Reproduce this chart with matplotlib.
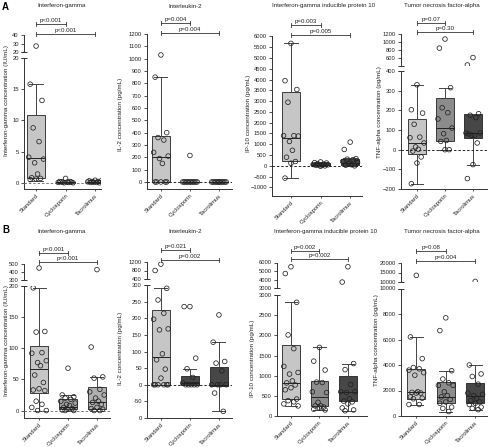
import matplotlib.pyplot as plt
from matplotlib.transforms import blended_transform_factory

plt.rcParams['font.family'] = ['Liberation Sans', 'DejaVu Sans']
plt.rcParams['font.size'] = 4.3

W, H = 489, 447
fig = plt.figure(figsize=(W / 100, H / 100), dpi=100)

groups = ['Standard', 'Cyclosporin', 'Tacrolimus']

# box stats per group: [whisker low, q1, median, q3, whisker high]
a_ifn_box = [[0.3, 0.8, 3.9, 10.9, 15.8], [0, 0.02, 0.06, 0.12, 0.2], [0, 0.05, 0.1, 0.2, 0.4]]
a_ifn_pts = [[27, 15.8, 13.2, 8.8, 6.6, 4.1, 3.8, 3.2, 1.4, 0.8, 0.7, 0.6, 0.5],
             [0.7, 0.2, 0.1, 0.1, 0.05, 0.05, 0, 0, 0.1, 0.15, 0.2],
             [0.4, 0.3, 0.3, 0.2, 0.2, 0.15, 0.1, 0.1, 0.05, 0.05, 0]]
a_il2_box = [[0, 0, 200, 375, 850], [0, 0, 0, 0, 0], [0, 0, 0, 0, 0]]
a_il2_pts = [[1030, 850, 400, 360, 340, 240, 210, 190, 150, 0, 0, 0, 0, 0],
             [215, 0, 0, 0, 0, 0, 0, 0, 0, 0, 0, 0],
             [0, 0, 0, 0, 0, 0, 0, 0, 0, 0, 0, 0]]
a_ip10_box = [[-570, 230, 1270, 3420, 5680], [-20, 20, 60, 110, 180], [0, 20, 120, 330, 340]]
a_ip10_pts = [[5680, 3950, 3540, 2950, 1400, 1400, 1380, 1130, 720, 400, 200, 120, -570],
              [180, 150, 130, 100, 80, 60, 50, 40, 30, 20, 0, -20],
              [1100, 760, 330, 310, 290, 200, 150, 100, 50, 30, 0]]
a_tnf_box = [[-173, -20, 34, 158, 330], [0, 44, 108, 265, 315], [-76, 61, 85, 183, 183]]
a_tnf_pts = [[330, 203, 186, 129, 64, 61, 34, 14, 2, -7, -37, -68, -173],
             [1075, 850, 315, 213, 188, 156, 110, 81, 47, 42, 0, 0],
             [617, 433, 183, 175, 163, 85, 85, 73, 73, 80, 34, -76, -147]]

b_ifn_box = [[0, 28, 66, 103, 197], [0, 3, 6, 18, 25], [0, 3, 13, 38, 54]]
b_ifn_pts = [[450, 197, 127, 126, 93, 92, 80, 77, 72, 57, 45, 35, 33, 32, 15, 10, 5, 0, 0],
             [68, 25, 22, 20, 18, 15, 12, 10, 8, 5, 3, 2, 1, 0, 0],
             [430, 102, 54, 52, 34, 30, 25, 20, 15, 13, 10, 5, 3, 2, 0, 0]]
b_il2_box = [[0, 0, 82, 225, 290], [0, 0, 5, 27, 48], [-80, -3, 0, 53, 128]]
b_il2_pts = [[1100, 800, 290, 255, 215, 197, 168, 165, 93, 75, 47, 20, 0, 0, 0, 0, 0, 0],
             [235, 235, 80, 48, 22, 5, 0, 0, 0, 0, 0],
             [210, 128, 70, 65, 42, 0, 0, 0, 0, -25, -80]]
b_ip10_box = [[240, 420, 810, 1760, 2820], [150, 250, 470, 860, 1700], [130, 370, 600, 980, 1300]]
b_ip10_pts = [[5500, 4700, 2820, 2010, 1670, 1230, 1080, 1040, 870, 820, 770, 700, 650, 420, 380, 350, 300, 250],
              [1700, 1360, 1140, 840, 830, 600, 580, 340, 250, 250, 220, 200, 170, 150],
              [5500, 3700, 1300, 1150, 780, 600, 600, 580, 430, 370, 350, 300, 200, 150, 130]]
b_tnf_box = [[900, 1350, 1900, 3700, 6200], [350, 1050, 1500, 2650, 3550], [500, 1050, 1550, 2550, 4000]]
b_tnf_pts = [[13500, 6200, 4500, 3800, 3700, 3600, 3400, 3200, 1900, 1850, 1800, 1800, 1500, 1400, 1350, 900, 900],
             [7700, 6700, 3550, 2900, 2600, 2400, 2400, 1900, 1600, 1500, 1300, 1100, 1000, 700, 600, 350],
             [10300, 4000, 3300, 3100, 2500, 1800, 1700, 1600, 1400, 1200, 1100, 1000, 900, 700, 600, 500]]

jit = [0.0, -0.2, 0.2, -0.1, 0.1, -0.25, 0.25, -0.05, 0.05, -0.15, 0.15]
ink = '#222222'


def rect(x0, x1, top, bottom):
    return [x0 / W, 1 - bottom / H, (x1 - x0) / W, (bottom - top) / H]


def fill(ax, box, pts, colors, xlim, ylim, ticks):
    stats = [dict(whislo=b[0], q1=b[1], med=b[2], q3=b[3], whishi=b[4], fliers=[]) for b in box]
    bp = ax.bxp(stats, positions=[1, 2, 3], widths=0.62, capwidths=0.45, patch_artist=True,
                showfliers=False, boxprops=dict(linewidth=0.6, edgecolor=ink),
                medianprops=dict(color=ink, linewidth=0.7),
                whiskerprops=dict(color='#444444', linewidth=0.7),
                capprops=dict(color='#444444', linewidth=0.7))
    for patch, c in zip(bp['boxes'], colors):
        patch.set_facecolor(c)
    for i, p in enumerate(pts):
        xs = [i + 1 + jit[k % len(jit)] for k in range(len(p))]
        keep = [(x, v) for x, v in zip(xs, p) if ylim[0] <= v <= ylim[1]]
        if keep:
            ax.scatter([k[0] for k in keep], [k[1] for k in keep], s=11, facecolors='none',
                       edgecolors=ink, linewidths=0.55, zorder=4)
    ax.set_xlim(*xlim)
    ax.set_ylim(*ylim)
    ax.set_yticks(ticks)
    for s in ['top', 'right']:
        ax.spines[s].set_visible(False)
    for s in ['left', 'bottom']:
        ax.spines[s].set_linewidth(0.7)
        ax.spines[s].set_color('#333333')
    ax.tick_params(length=2.5, width=0.6, pad=1.2, labelsize=4.2, color='#333333', labelcolor=ink)


def brk(ax, yfrac):
    # short dash across the spine where the axis is broken
    ax.plot([0], [yfrac], marker='_', markersize=5, mew=0.7, color='#333333',
            transform=ax.transAxes, clip_on=False)


def panel(x0, x1, xlim, lower, upper, box, pts, colors, title, tx, ty, ylabel, lx, ly,
          pvals, py, zero=True, zero_color=ink, ylabels=None):
    top, bottom, ylim, ticks = lower
    ax = fig.add_axes(rect(x0, x1, top, bottom))
    fill(ax, box, pts, colors, xlim, ylim, ticks)
    if ylabels is not None:
        ax.set_yticklabels(ylabels)
    ax.set_xticks([1, 2, 3])
    ax.set_xticklabels(groups, rotation=45, ha='right', rotation_mode='anchor')
    ax.tick_params(axis='x', length=1.5, pad=1.5)
    if zero:
        ax.axhline(0, color=zero_color, lw=0.7, ls=(0, (2.5, 2)), zorder=3)
    if upper is not None:
        utop, ubottom, uylim, uticks = upper
        ua = fig.add_axes(rect(x0, x1, utop, ubottom))
        fill(ua, box, pts, colors, xlim, uylim, uticks)
        ua.spines['bottom'].set_visible(False)
        ua.set_xticks([])
        ua.patch.set_alpha(0)
        brk(ax, 1)
        brk(ua, 0)
    fig.text(tx / W, 1 - ty / H, title, ha='center', va='center', fontsize=4.4, color=ink)
    fig.text(lx / W, 1 - ly / H, ylabel, ha='center', va='center', rotation=90, fontsize=4.5, color=ink)
    tr = blended_transform_factory(ax.transData, fig.transFigure)
    for (a, b, txt), ypx in zip(pvals, py):
        y = 1 - ypx / H
        d = 2.2 / H
        ax.plot([a, a], [y - d, y + d], transform=tr, color='#333333', lw=0.6, clip_on=False)
        ax.plot([b, b], [y - d, y + d], transform=tr, color='#333333', lw=0.6, clip_on=False)
        ax.plot([a, b], [y, y], transform=tr, color='#333333', lw=0.6, clip_on=False)
        ax.text((a + b) / 2, y + 1.2 / H, txt, transform=tr, ha='center', va='bottom',
                fontsize=4.4, color=ink)


light, mid, dark = '#c6c6c6', '#8c8c8c', '#474747'

# row A
panel(24, 101, (0.59, 3.2), (58, 189, (-1, 20), [0, 5, 10, 15, 20]), (35, 52, (20, 40), [20, 30, 40]),
      a_ifn_box, a_ifn_pts, [light, mid, dark], 'Interferon-gamma', 62, 6,
      'Interferon-gamma concentration (IU/mL)', 7, 100,
      [(1, 2, 'p<0.001'), (1, 3, 'p<0.001')], [24, 34], zero_color='#777777')
panel(147, 232, (0.52, 3.45), (34, 189, (-57, 1200), list(range(0, 1201, 100))), None,
      a_il2_box, a_il2_pts, [light, mid, dark], 'Interleukin-2', 185, 6,
      'IL-2 concentration (pg/mL)', 121, 114,
      [(1, 2, 'p=0.004'), (1, 3, 'p=0.004')], [23, 33])
panel(272, 362, (0.36, 3.4), (36.5, 196, (-1400, 6000), list(range(-1000, 6001, 500))), None,
      a_ip10_box, a_ip10_pts, [light, dark, dark], 'Interferon-gamma inducible protein 10', 324, 6,
      'IP-10 concentration (pg/mL)', 249, 113,
      [(1, 2, 'p=0.003'), (1, 3, 'p=0.005')], [25, 35])
panel(401, 487, (0.43, 3.5), (71, 189, (-200, 400), list(range(-200, 401, 100))),
      (34, 65.5, (420, 1200), [600, 800, 1000, 1200]),
      a_tnf_box, a_tnf_pts, [light, mid, dark], 'Tumor necrosis factor-alpha', 442, 6,
      'TNF-alpha concentration (pg/mL)', 380, 112,
      [(1, 2, 'p=0.07'), (1, 3, 'p=0.30')], [23, 32])

# row B
panel(24, 110, (0.48, 3.45), (286, 418, (-12, 200), [0, 50, 100, 150, 200]),
      (264, 280, (300, 500), [300, 400, 500]),
      b_ifn_box, b_ifn_pts, [light, '#a3a3a3', '#b0b0b0'], 'Interferon-gamma', 62, 232,
      'Interferon-gamma concentration (IU/mL)', 7, 340,
      [(1, 2, 'p<0.001'), (1, 3, 'p<0.001')], [253, 262], zero_color='#777777')
panel(147, 232, (0.52, 3.45), (285, 418, (-100, 300), list(range(-100, 301, 50))),
      (262, 279, (400, 1200), [400, 800, 1200]),
      b_il2_box, b_il2_pts, [light, dark, dark], 'Interleukin-2', 185, 232,
      'IL-2 concentration (pg/mL)', 121, 348,
      [(1, 2, 'p=0.021'), (1, 3, 'p=0.002')], [250, 260],
      ylabels=['0', '-50', '0', '50', '100', '150', '200', '250', '300'])
panel(277, 367, (0.51, 3.67), (295, 416, (0, 3000), list(range(0, 3001, 500))),
      (262.5, 288, (3000, 6000), [3000, 4000, 5000, 6000]),
      b_ip10_box, b_ip10_pts, [light, mid, dark], 'Interferon-gamma inducible protein 10', 326, 232,
      'IP-10 concentration (pg/mL)', 253, 358,
      [(1, 2, 'p=0.002'), (1, 3, 'p=0.002')], [251, 259], zero=False)
panel(401, 487, (0.48, 3.4), (288.5, 416, (0, 10000), list(range(0, 10001, 2000))),
      (263, 282, (10000, 20000), [10000, 15000, 20000]),
      b_tnf_box, b_tnf_pts, [light, mid, dark], 'Tumor necrosis factor-alpha', 442, 232,
      'TNF-alpha concentration (pg/mL)', 377, 340,
      [(1, 2, 'p=0.08'), (1, 3, 'p=0.004')], [251, 261], zero=False)

fig.text(2 / W, 1 - 7 / H, 'A', fontsize=7, fontweight='bold', va='center')
fig.text(2 / W, 1 - 230 / H, 'B', fontsize=7, fontweight='bold', va='center')

fig.savefig('out.png', dpi=100)
